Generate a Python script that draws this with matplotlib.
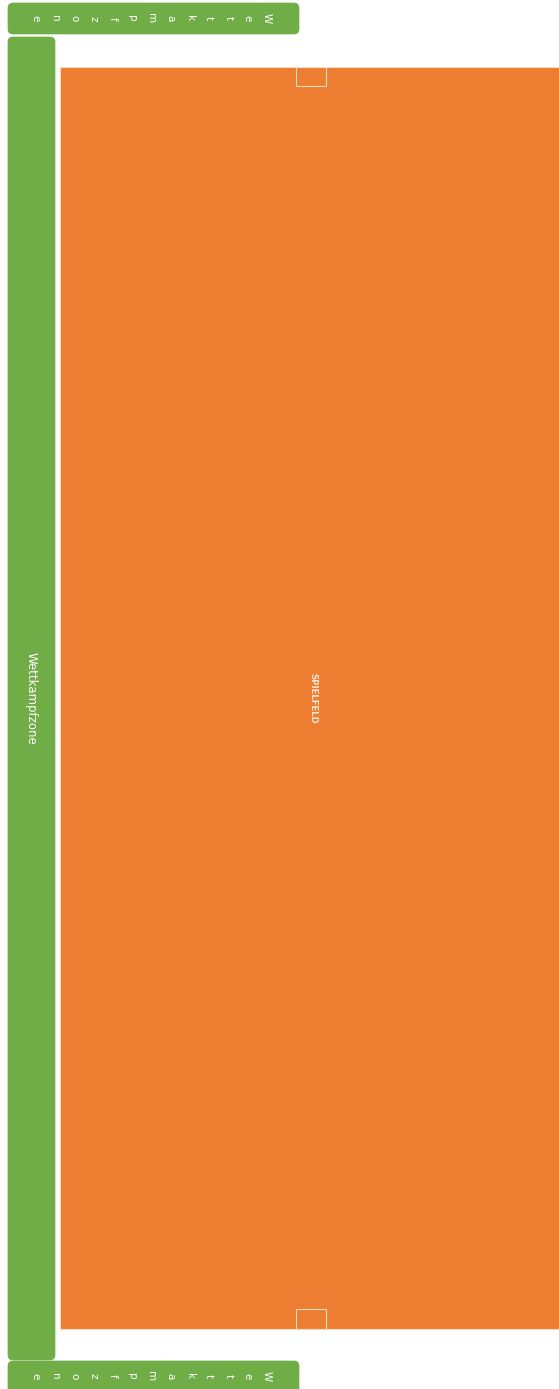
import matplotlib.pyplot as plt
from matplotlib.patches import FancyBboxPatch, Rectangle

# Diagram contents (pixel space of the original drawing, y grows downward)
zone_word = "Wettkampfzone"
field_label = "SPIELFELD"

# green competition zones: (x0, x1, y0, y1)
green_zones = [
    (8, 299, 3, 34),       # top bar
    (8, 55, 37, 1360),     # left strip
    (8, 299, 1361, 1400),  # bottom bar (runs off the page)
]
# orange playing field
field = (60, 570, 67, 1329)
# little goal boxes on the field edge
goal_boxes = [
    (296, 326, 67, 86),
    (296, 326, 1309, 1329),
]

GREEN = "#70AD47"
ORANGE = "#ED7D31"
LIGHT = "#F8D9BF"


def main():
    W, H = 559, 1389
    fig = plt.figure(figsize=(W / 100, H / 100), dpi=100)
    ax = fig.add_axes([0, 0, 1, 1])
    ax.set_xlim(0, W)
    ax.set_ylim(H, 0)
    ax.axis("off")

    for x0, x1, y0, y1 in green_zones:
        ax.add_patch(FancyBboxPatch((x0, y0), x1 - x0, y1 - y0,
                                    boxstyle="round,pad=0,rounding_size=5",
                                    facecolor=GREEN, edgecolor=GREEN, lw=0.5))

    x0, x1, y0, y1 = field
    ax.add_patch(Rectangle((x0, y0), x1 - x0, y1 - y0,
                           facecolor=ORANGE, edgecolor=LIGHT, lw=0.8))
    for gx0, gx1, gy0, gy1 in goal_boxes:
        ax.add_patch(Rectangle((gx0, gy0), gx1 - gx0, gy1 - gy0,
                               facecolor="none", edgecolor=LIGHT, lw=0.8))

    # stacked letters in the top and bottom bars (read right to left)
    step = 19.3
    for y in (18.5, 1376):
        for i, ch in enumerate(zone_word):
            ax.text(267 - i * step, y, ch, rotation=270, color="white",
                    fontsize=7.5, ha="center", va="center")

    # left strip label
    ax.text(31, 698, zone_word, rotation=270, color="white",
            fontsize=8.5, ha="center", va="center")

    # field label
    ax.text(313, 698, field_label, rotation=270, color="#FBE5D6",
            fontsize=6.2, fontweight="bold", ha="center", va="center")

    fig.savefig("out.png", dpi=100)
    plt.close(fig)


if __name__ == "__main__":
    main()
